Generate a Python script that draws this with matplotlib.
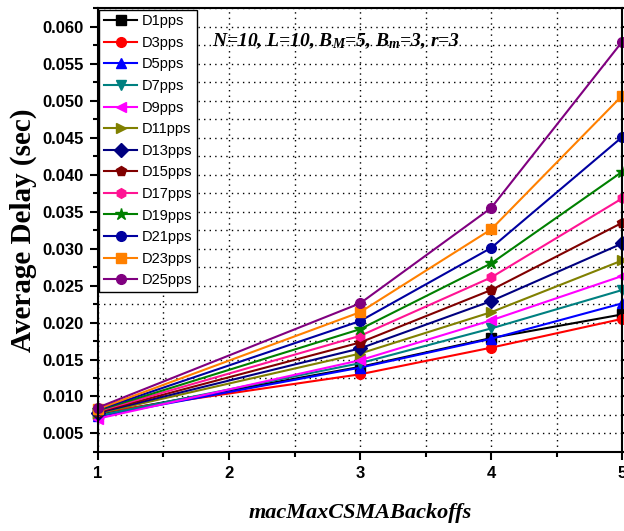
import matplotlib.pyplot as plt
from matplotlib.ticker import MultipleLocator

plt.rcParams['mathtext.fontset'] = 'custom'
plt.rcParams['mathtext.rm'] = 'Liberation Serif:italic:bold'
plt.rcParams['mathtext.it'] = 'Liberation Serif:italic:bold'

# macMaxCSMABackoffs values
backoffs = [1, 3, 4, 5]

# average delay (sec) per packet rate
d1 = [0.0076, 0.0140, 0.0179, 0.0211]
d3 = [0.0078, 0.0130, 0.0166, 0.0205]
d5 = [0.0073, 0.0139, 0.0178, 0.0226]
d7 = [0.0074, 0.0145, 0.0192, 0.0244]
d9 = [0.0070, 0.0149, 0.0203, 0.0263]
d11 = [0.0077, 0.0158, 0.0214, 0.0284]
d13 = [0.0078, 0.0165, 0.0229, 0.0307]
d15 = [0.0079, 0.0173, 0.0244, 0.0335]
d17 = [0.0080, 0.0182, 0.0261, 0.0368]
d19 = [0.0081, 0.0191, 0.0280, 0.0404]
d21 = [0.0082, 0.0202, 0.0301, 0.0451]
d23 = [0.0083, 0.0214, 0.0326, 0.0507]
d25 = [0.0085, 0.0226, 0.0355, 0.0580]

series = [
    ('D1pps', d1, 'black', 's'),
    ('D3pps', d3, 'red', 'o'),
    ('D5pps', d5, 'blue', '^'),
    ('D7pps', d7, '#008080', 'v'),
    ('D9pps', d9, 'magenta', '<'),
    ('D11pps', d11, '#808000', '>'),
    ('D13pps', d13, '#000080', 'D'),
    ('D15pps', d15, '#800000', 'p'),
    ('D17pps', d17, '#FF1493', 'h'),
    ('D19pps', d19, '#008000', '*'),
    ('D21pps', d21, '#0000A0', 'o'),
    ('D23pps', d23, '#FF8000', 's'),
    ('D25pps', d25, '#800080', 'o'),
]

fig = plt.figure(figsize=(6.24, 5.31), dpi=100)
ax = fig.add_axes([0.157, 0.149, 0.84, 0.835])

for label, vals, col, mk in series:
    ms = 9 if mk == '*' else 7
    ax.plot(backoffs, vals, color=col, marker=mk, markersize=ms,
            linewidth=1.5, label=label, clip_on=False)

ax.set_xlim(1, 5)
ax.set_ylim(0.0025, 0.0625)
ax.xaxis.set_major_locator(MultipleLocator(1))
ax.xaxis.set_minor_locator(MultipleLocator(0.5))
ax.yaxis.set_major_locator(MultipleLocator(0.005))
ax.yaxis.set_minor_locator(MultipleLocator(0.0025))
ax.yaxis.set_major_formatter(plt.FormatStrFormatter('%.3f'))

ax.grid(True, which='both', color='black', linestyle=(0, (1, 3)), linewidth=1)
ax.tick_params(which='major', direction='out', length=6, width=1.5,
               labelsize=12, right=True, pad=4)
ax.tick_params(which='minor', direction='out', length=3.5, width=1.5, right=True)
for lab in ax.get_xticklabels() + ax.get_yticklabels():
    lab.set_fontweight('bold')
    lab.set_fontfamily('Liberation Sans')
for sp in ax.spines.values():
    sp.set_linewidth(1.5)

ax.set_ylabel('Average Delay (sec)', fontsize=21, fontweight='bold',
              fontfamily='Liberation Serif', labelpad=4)
ax.set_xlabel('macMaxCSMABackoffs', fontsize=16, fontweight='bold',
              fontstyle='italic', fontfamily='Liberation Serif', labelpad=16)

ax.text(1.87, 0.0581, r'N=10, L=10, B$_{M}$=5, B$_{m}$=3, r=3', fontsize=14,
        fontweight='bold', fontstyle='italic', fontfamily='Liberation Serif',
        va='center')

leg = ax.legend(loc='upper left', fontsize=10.5, frameon=True, fancybox=False,
                edgecolor='black', framealpha=1, borderaxespad=0.1,
                labelspacing=0.52, handlelength=2.3, handletextpad=0.3,
                borderpad=0.3)
leg.get_frame().set_linewidth(1)
for t in leg.get_texts():
    t.set_fontfamily('Liberation Sans')

fig.savefig('out.png', dpi=100)
